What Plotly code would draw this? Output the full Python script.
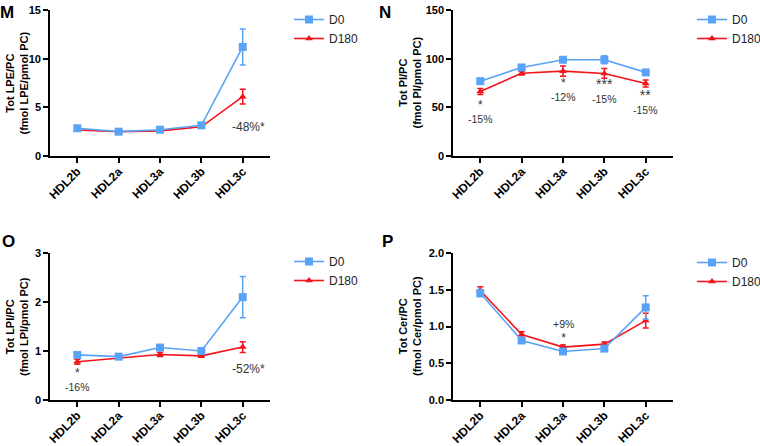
"""
HDL subfraction lipid ratios, D0 vs D180 (panels M, N, O, P).
"""

import plotly.graph_objects as go

W, H = 760, 446
FONT = 'Arial, Liberation Sans, sans-serif'
COLORS = {'D0': '#58A3F5', 'D180': '#F2141B'}

FRACTIONS = ['HDL2b', 'HDL2a', 'HDL3a', 'HDL3b', 'HDL3c']

# Panel M: Tot LPE/PC
lpe_d0 = [2.85, 2.5, 2.7, 3.15, 11.2]
lpe_d0_err = [0.15, 0.1, 0.15, 0.2, 1.85]
lpe_d180 = [2.67, 2.5, 2.58, 3.0, 6.1]
lpe_d180_err = [0.12, 0.1, 0.12, 0.15, 0.75]

# Panel N: Tot PI/PC
pi_d0 = [76.9, 91.0, 98.9, 98.9, 85.9]
pi_d0_err = [2.5, 2.0, 2.5, 4.0, 2.5]
pi_d180 = [66.3, 85.1, 87.2, 84.8, 74.5]
pi_d180_err = [3.0, 2.0, 5.3, 5.0, 3.5]

# Panel O: Tot LPI/PC
lpi_d0 = [0.92, 0.885, 1.07, 1.0, 2.1]
lpi_d0_err = [0.03, 0.03, 0.04, 0.03, 0.42]
lpi_d180 = [0.78, 0.86, 0.93, 0.9, 1.08]
lpi_d180_err = [0.05, 0.03, 0.04, 0.03, 0.11]

# Panel P: Tot Cer/PC
cer_d0 = [1.455, 0.81, 0.66, 0.70, 1.26]
cer_d0_err = [0.05, 0.03, 0.03, 0.03, 0.16]
cer_d180 = [1.49, 0.89, 0.72, 0.76, 1.08]
cer_d180_err = [0.05, 0.04, 0.03, 0.03, 0.1]

# significance labels: (fraction index, y, text, font size)
STARS = '<span style="font-size:{}px">{}</span>'
M_NOTES = [(4.15, 2.98, '-48%*', 12)]
N_NOTES = [(0, 45.6, STARS.format(12, '*') + '<br>-15%', 10.5),
           (2, 68.0, STARS.format(12, '*') + '<br>-12%', 10.5),
           (3, 67.3, STARS.format(14, '***') + '<br>-15%', 10.5),
           (4, 56.0, STARS.format(14, '**') + '<br>-15%', 10.5)]
O_NOTES = [(0, 0.41, STARS.format(12, '*') + '<br>-16%', 10.5),
           (4.13, 0.63, '-52%*', 12)]
P_NOTES = [(2, 0.93, '+9%<br>' + STARS.format(12, '*'), 10.5)]


def px_x(p):
    """Pixel from left -> paper x."""
    return p / W


def px_y(p):
    """Pixel from top -> paper y."""
    return 1 - p / H


fig = go.Figure()

panels = [
    # letter, suffix, d0, d0 err, d180, d180 err, y range, dtick, fmt, y title, notes,
    # axis left px, plot top px, plot bottom px, letter (x, y), title x, legend (x, y)
    ('M', '', lpe_d0, lpe_d0_err, lpe_d180, lpe_d180_err, [0, 15], 5, '',
     'Tot LPE/PC<br>(fmol LPE/pmol PC)', M_NOTES, 50, 10, 156, (-2, 1), 16.5, (289, 5)),
    ('N', '2', pi_d0, pi_d0_err, pi_d180, pi_d180_err, [0, 150], 50, '',
     'Tot PI/PC<br>(fmol PI/pmol PC)', N_NOTES, 453, 10, 156, (377, 1), 409.5, (692, 5)),
    ('O', '3', lpi_d0, lpi_d0_err, lpi_d180, lpi_d180_err, [0, 3], 1, '',
     'Tot LPI/PC<br>(fmol LPI/pmol PC)', O_NOTES, 50, 253, 400, (0, 230), 16.5, (289, 247)),
    ('P', '4', cer_d0, cer_d0_err, cer_d180, cer_d180_err, [0, 2], 0.5, '.1f',
     'Tot Cer/PC<br>(fmol Cer/pmol PC)', P_NOTES, 453, 253, 400, (380, 230), 409.5, (692, 248)),
]

annotations = []
layout_axes = {}
legends = {}

for (letter, sfx, d0, d0e, d180, d180e, yr, dt, fmt, ytitle, notes,
     left, top, bottom, let_xy, title_x, leg_xy) in panels:
    xa, ya = 'x' + sfx, 'y' + sfx
    leg = 'legend' + sfx

    # D180 first so the D0 squares sit on top
    fig.add_trace(go.Scatter(
        x=FRACTIONS, y=d180, name='D180', xaxis=xa, yaxis=ya, legend=leg,
        mode='lines+markers', legendrank=2,
        line=dict(color=COLORS['D180'], width=1.6),
        marker=dict(symbol='triangle-up', size=7, color=COLORS['D180']),
        error_y=dict(type='data', array=d180e, color=COLORS['D180'],
                     thickness=1.5, width=3),
    ))
    fig.add_trace(go.Scatter(
        x=FRACTIONS, y=d0, name='D0', xaxis=xa, yaxis=ya, legend=leg,
        mode='lines+markers', legendrank=1,
        line=dict(color=COLORS['D0'], width=1.6),
        marker=dict(symbol='square', size=8, color=COLORS['D0']),
        error_y=dict(type='data', array=d0e, color=COLORS['D0'],
                     thickness=1.5, width=3),
    ))

    right = left + 220
    axis_common = dict(
        showline=True, linecolor='black', linewidth=1.6,
        ticks='outside', tickcolor='black', ticklen=5, tickwidth=1.6,
        showgrid=False, zeroline=False, automargin=False,
    )
    layout_axes['xaxis' + sfx] = dict(
        axis_common, domain=[px_x(left), px_x(right)], anchor=ya,
        range=[-0.66, 4.66], tickangle=-45, type='category',
        ticklabelstandoff=-3,
        tickfont=dict(family=FONT, size=12, color='black', weight='bold'),
    )
    layout_axes['yaxis' + sfx] = dict(
        axis_common, domain=[px_y(bottom), px_y(top)], anchor=xa,
        range=yr, dtick=dt, tickformat=fmt,
        tickfont=dict(family=FONT, size=11, color='black', weight='bold'),
    )

    # container refs so the legends never push the margins
    legends[leg] = dict(
        xref='container', yref='container',
        x=px_x(leg_xy[0]), y=px_y(leg_xy[1]), xanchor='left', yanchor='top',
        bgcolor='rgba(0,0,0,0)', font=dict(family=FONT, size=12, color='#222'),
        tracegroupgap=0, itemwidth=30,
    )

    # panel letter
    annotations.append(dict(
        text=letter, xref='paper', yref='paper', showarrow=False,
        x=px_x(let_xy[0]), y=px_y(let_xy[1]), xanchor='left', yanchor='top',
        font=dict(family=FONT, size=17, color='black', weight='bold'),
    ))
    # y axis title
    annotations.append(dict(
        text=ytitle, xref='paper', yref='paper', showarrow=False,
        x=px_x(title_x), y=px_y((top + bottom) / 2), textangle=-90,
        xanchor='center', yanchor='middle',
        font=dict(family=FONT, size=11, color='black', weight='bold'),
    ))
    for nx, ny, txt, fs in notes:
        annotations.append(dict(
            text=txt, xref=xa, yref=ya, x=nx, y=ny, showarrow=False,
            font=dict(family=FONT, size=fs, color='#333'),
        ))

fig.update_layout(
    width=W, height=H,
    margin=dict(l=0, r=0, t=0, b=0, autoexpand=False),
    plot_bgcolor='white', paper_bgcolor='white',
    showlegend=True,
    annotations=annotations,
    **layout_axes,
    **legends,
)

# drop the default body margin so the figure fills the window exactly
fig.write_html("out.html", config={'displayModeBar': False},
               post_script="document.body.style.margin='0';")
